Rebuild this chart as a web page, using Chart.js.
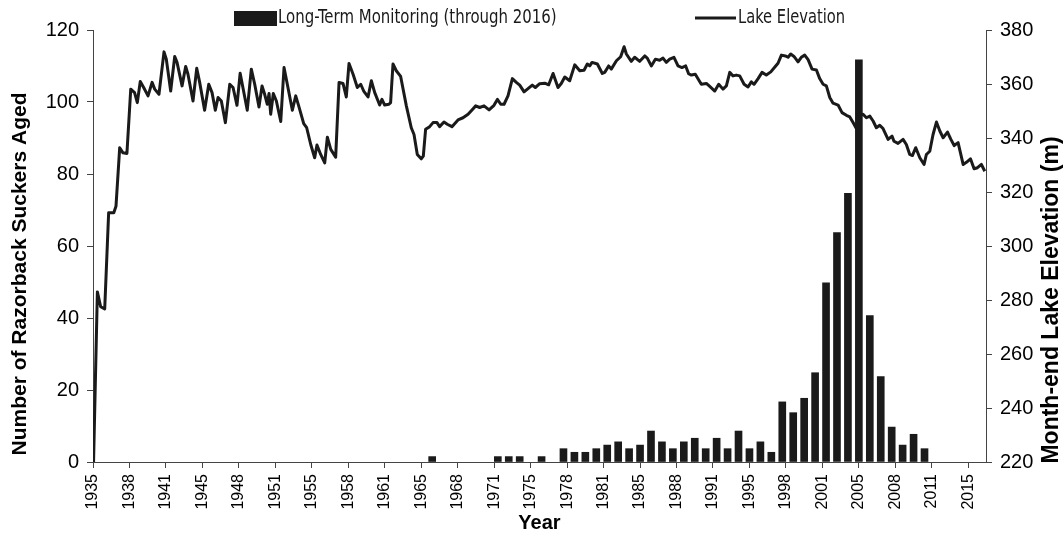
<!DOCTYPE html>
<html>
<head>
<meta charset="utf-8">
<script src="https://cdn.jsdelivr.net/npm/chart.js@4.4.0/dist/chart.umd.min.js"></script>
<style>
  html, body { margin: 0; padding: 0; background: #fff; }
</style>
</head>
<body>
<canvas id="chart" width="1063" height="535"></canvas>
<script>
// razorback suckers aged, by year class
const barYears = [1966, 1972, 1973, 1974, 1976, 1978, 1979, 1980, 1981, 1982, 1983, 1984, 1985, 1986, 1987, 1988, 1989, 1990, 1991, 1992,
  1993, 1994, 1995, 1996, 1997, 1998, 1999, 2000, 2001, 2002, 2003, 2004, 2005, 2006, 2007, 2008, 2009, 2010, 2011];
const barCounts = [1.5, 1.5, 1.5, 1.5, 1.5, 3.7, 2.7, 2.7, 3.7, 4.7, 5.6, 3.7, 4.7, 8.6, 5.6, 3.7, 5.6, 6.6, 3.7, 6.6,
  3.7, 8.6, 3.7, 5.6, 2.7, 16.7, 13.7, 17.7, 24.8, 49.8, 63.7, 74.6, 111.7, 40.7, 23.7, 9.7, 4.7, 7.7, 3.7];

// month-end lake elevation (m)
const lakeYears = [1935.05, 1935.4, 1935.7, 1936.07, 1936.43, 1936.9, 1937.1, 1937.44, 1937.74, 1938.1, 1938.45, 1938.8, 1939.05, 1939.32,
  1939.63, 1940.03, 1940.4, 1940.64, 1941.03, 1941.49, 1941.7, 1942.1, 1942.47, 1942.68, 1943.14, 1943.47, 1943.68, 1944.14,
  1944.48, 1944.75, 1945.2, 1945.58, 1945.88, 1946.18, 1946.43, 1946.73, 1947.1, 1947.5, 1947.8, 1948.16, 1948.45,
  1949.1, 1949.47, 1949.78, 1950.17, 1950.45, 1950.69, 1950.93, 1951.09, 1951.24, 1951.48, 1951.76, 1952.16, 1952.46,
  1952.76, 1953.22, 1953.53, 1953.8, 1954.26, 1954.53, 1954.9, 1955.26, 1955.47, 1955.81, 1956.18, 1956.42, 1956.73,
  1957.18, 1957.49, 1957.85, 1958.15, 1958.4, 1958.77, 1959.16, 1959.47, 1959.74, 1960.14, 1960.44, 1960.75, 1961.2,
  1961.41, 1961.66, 1962.05, 1962.2, 1962.42, 1962.72, 1963.12, 1963.64, 1964.09, 1964.34, 1964.64, 1965.0, 1965.19,
  1965.4, 1965.77, 1966.08, 1966.44, 1966.68, 1967.08, 1967.38, 1967.81, 1968.36, 1968.82, 1969.28, 1969.64, 1969.98,
  1970.34, 1970.74, 1971.2, 1971.65, 1971.96, 1972.27, 1972.57, 1972.93, 1973.33, 1973.69, 1974.0, 1974.4, 1974.76,
  1975.15, 1975.43, 1975.83, 1976.29, 1976.65, 1977.05, 1977.5, 1977.8, 1978.12, 1978.57, 1979.03, 1979.49, 1979.88,
  1980.18, 1980.4, 1980.61, 1981.1, 1981.55, 1981.77, 1982.13, 1982.37, 1982.84, 1983.23, 1983.54, 1983.75, 1984.2,
  1984.51, 1984.97, 1985.43, 1985.66, 1986.03, 1986.4, 1986.79, 1987.1, 1987.4, 1987.71, 1988.1, 1988.47, 1988.83,
  1989.17, 1989.44, 1989.69, 1990.05, 1990.6, 1991.06, 1991.37, 1991.83, 1992.19, 1992.58, 1992.89, 1993.2, 1993.5,
  1993.8, 1994.11, 1994.51, 1994.87, 1995.17, 1995.42, 1995.79, 1996.15, 1996.54, 1996.95, 1997.36, 1997.61, 1997.92,
  1998.28, 1998.53, 1998.77, 1999.07, 1999.44, 1999.74, 2000.05, 2000.36, 2000.72, 2001.12, 2001.42, 2001.73, 2002.03,
  2002.34, 2002.64, 2003.1, 2003.46, 2003.86, 2004.17, 2004.47, 2004.77, 2005.05, 2005.38, 2005.69, 2006.0, 2006.3,
  2006.6, 2006.91, 2007.21, 2007.67, 2008.03, 2008.21, 2008.58, 2009.04, 2009.34, 2009.65, 2009.89, 2010.2, 2010.57,
  2010.96, 2011.17, 2011.48, 2011.78, 2012.09, 2012.4, 2012.7, 2013.1, 2013.41, 2013.71, 2014.07, 2014.53, 2014.83,
  2015.2, 2015.53, 2015.84, 2016.2, 2016.51];
const lakeElev = [220, 283, 277.5, 276.7, 312.3, 312.3, 314.7, 336.4, 334.5, 334.3, 358.1, 356.8, 353.1, 360.9,
  358.7, 355.6, 360.6, 358.1, 356.2, 371.9, 369.2, 357.4, 370.2, 368, 359.3, 366.5, 363.6, 353.7,
  365.8, 360.6, 350.3, 359.9, 356.8, 350.3, 355, 353.7, 345.7, 359.9, 358.7, 352.1, 364,
  350.3, 365.5, 359.9, 351.5, 359.3, 356.2, 352.5, 356.5, 348.8, 356.5, 353.7, 346.1, 366.1,
  359.9, 350.3, 355.6, 351.9, 345.3, 343.8, 337.6, 332.7, 337.4, 333.9, 330.8, 340.3, 335.8,
  332.9, 360.6, 360.2, 355.2, 367.6, 363.6, 358.7, 359.9, 357.4, 355.2, 361.2, 356.8, 352.2,
  354.3, 352.2, 352.5, 353.1, 367.4, 364.9, 362.8, 351.9, 343.8, 341.3, 333.9, 332.3, 333.3,
  343.2, 344.2, 345.7, 345.7, 344.2, 345.9, 345.1, 344.2, 346.7, 347.5, 348.8, 350.4, 351.9,
  351.3, 351.9, 350.4, 352.1, 354.3, 352.5, 352.5, 355.6, 362.0, 360.6, 359.6, 357.1, 358.3,
  359.6, 358.7, 360.1, 360.3, 359.7, 363.9, 358.7, 360.2, 362.6, 361.2, 367.1, 364.9, 365.1,
  367.4, 366.7, 368, 367.4, 363.9, 364.3, 366.7, 365.5, 368.6, 370.1, 373.8, 371.1, 368.4,
  369.9, 368.4, 370.4, 369.6, 366.7, 369.2, 368.8, 369.6, 368, 369.2, 369.9, 366.7, 366.1,
  366.7, 363.8, 363.3, 363.6, 359.9, 360.2, 359.1, 357.4, 359.9, 358.1, 359.3, 364.3, 363,
  363.3, 363, 359.9, 358.9, 360.8, 359.9, 362, 364.3, 363.3, 364.5, 366.5, 367.7, 370.7,
  370.4, 369.9, 371.1, 370.2, 368.2, 369.9, 370.7, 369.0, 365.5, 365.2, 362, 359.9, 359.3,
  355, 352.9, 352.2, 349.4, 348.4, 347.8, 345.7, 343.5, 348.5, 348.8, 347.5, 348.1, 346.3,
  343.8, 344.7, 343.5, 339.5, 340.7, 338.8, 338, 339.5, 337.6, 333.9, 333.5, 336.4, 332.7,
  330.2, 333.9, 335.1, 341.3, 345.9, 342.6, 340.1, 342.2, 339.5, 337.2, 338.3, 330.2, 331.0,
  332.3, 328.6, 329, 330.2, 327.7];

// axis labels every 40 months from Jan 1935
const tickYears = [1935, 1938, 1941, 1945, 1948, 1951, 1955, 1958, 1961, 1965, 1968, 1971, 1975, 1978, 1981,
  1985, 1988, 1991, 1995, 1998, 2001, 2005, 2008, 2011, 2015];

const ink = "#1a1a1a";
const axisColor = "#444";
const sans = '"Liberation Sans", Arial, sans-serif';
const narrow = '"Liberation Sans Narrow", "DejaVu Sans Condensed", sans-serif';

function vText(ctx, text, x, y, font) {
  ctx.save();
  ctx.translate(x, y);
  ctx.rotate(-Math.PI / 2);
  ctx.textAlign = "center";
  ctx.textBaseline = "middle";
  ctx.fillStyle = "#000";
  ctx.font = font;
  ctx.fillText(text, 0, 0);
  ctx.restore();
}

// legend and both y titles drawn by hand (both read bottom-to-top)
const extras = {
  id: "extras",
  afterDraw(chart) {
    const ctx = chart.ctx;
    const ds = chart.data.datasets;
    ctx.save();
    ctx.fillStyle = ink;
    ctx.fillRect(234, 11, 43, 15);
    ctx.strokeStyle = ink;
    ctx.lineWidth = 3;
    ctx.beginPath();
    ctx.moveTo(695, 18);
    ctx.lineTo(736, 18);
    ctx.stroke();
    ctx.font = "19px " + narrow;
    ctx.textBaseline = "middle";
    ctx.save();
    ctx.translate(278, 18);
    ctx.scale(0.875, 1);
    ctx.fillText(ds[0].label, 0, 0);
    ctx.restore();
    ctx.save();
    ctx.translate(738, 18);
    ctx.scale(0.86, 1);
    ctx.fillText(ds[1].label, 0, 0);
    ctx.restore();
    ctx.restore();

    vText(ctx, "Number of Razorback Suckers Aged", 20, 274, "bold 21px " + sans);
    vText(ctx, "Month-end Lake Elevation (m)", 1052, 300, "bold 23px " + sans);
  }
};

new Chart(document.getElementById("chart"), {
  type: "bar",
  data: {
    datasets: [
      {
        label: "Long-Term Monitoring (through 2016)",
        data: barYears.map((y, i) => ({ x: y, y: barCounts[i] })),
        backgroundColor: ink,
        barThickness: 7,
        yAxisID: "y",
        order: 0
      },
      {
        type: "line",
        label: "Lake Elevation",
        data: lakeYears.map((y, i) => ({ x: y, y: lakeElev[i] })),
        borderColor: ink,
        borderWidth: 3,
        pointRadius: 0,
        tension: 0,
        borderJoinStyle: "round",
        yAxisID: "y2",
        order: 1
      }
    ]
  },
  options: {
    responsive: false,
    animation: false,
    layout: { padding: { top: 30, left: 0, right: 0, bottom: 0 } },
    plugins: {
      legend: { display: false },
      tooltip: { enabled: false }
    },
    scales: {
      x: {
        type: "linear",
        min: 1935,
        max: 2016.62,
        offset: false,
        grid: { drawOnChartArea: false, tickLength: 6, color: axisColor, offset: false },
        border: { color: axisColor, width: 1 },
        afterBuildTicks: scale => {
          scale.ticks = tickYears.map((y, i) => ({ value: 1935 + i * 40 / 12 }));
        },
        ticks: {
          autoSkip: false,
          minRotation: 90,
          maxRotation: 90,
          padding: 6,
          color: "#000",
          font: { family: sans, size: 16 },
          callback: (v, i) => String(tickYears[i])
        },
        title: {
          display: true,
          text: "Year",
          color: "#000",
          font: { family: sans, size: 20, weight: "bold" },
          padding: { top: 0, bottom: 0 }
        },
        afterFit: scale => { scale.height = 73; }
      },
      y: {
        position: "left",
        min: 0,
        max: 120,
        grid: { drawOnChartArea: false, tickLength: 6, color: axisColor },
        border: { color: axisColor, width: 1 },
        ticks: { stepSize: 20, padding: 8, color: "#000", font: { family: sans, size: 20 } },
        afterFit: scale => { scale.width = 93; }
      },
      y2: {
        position: "right",
        min: 220,
        max: 380,
        grid: { drawOnChartArea: false, tickLength: 6, color: axisColor },
        border: { color: axisColor, width: 1 },
        ticks: { stepSize: 20, padding: 8, color: "#000", font: { family: sans, size: 20 } },
        afterFit: scale => { scale.width = 77; }
      }
    }
  },
  plugins: [extras]
});
</script>
</body>
</html>
